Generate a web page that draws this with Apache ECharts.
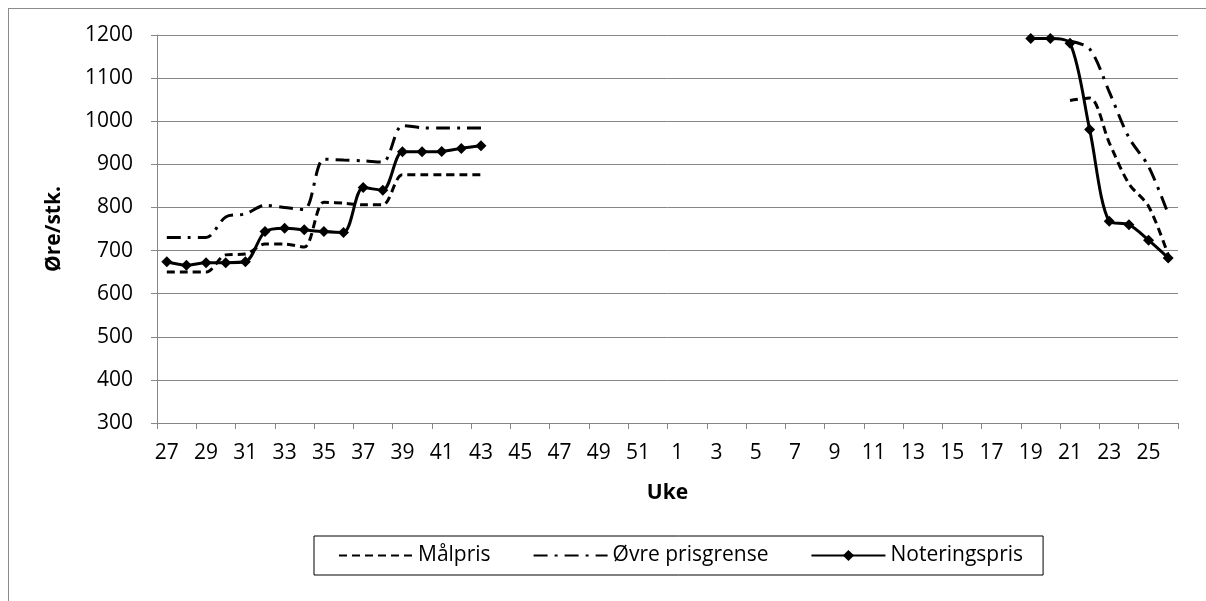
<!DOCTYPE html>
<html>
<head>
<meta charset="utf-8">
<script src="https://cdn.jsdelivr.net/npm/echarts@6/dist/echarts.min.js"></script>
<style>
html,body{margin:0;padding:0;width:1206px;height:601px;overflow:hidden;background:#fff;}
#frame{position:absolute;left:8px;top:8px;width:1400px;height:800px;border:1px solid #8c8c8c;box-sizing:border-box;}
#chart{position:absolute;left:0;top:0;width:1206px;height:601px;}
</style>
</head>
<body>
<div id="frame"></div>
<div id="chart"></div>
<script>
// Categories: weeks 27..52, then 1..26
var weeks = ['27','28','29','30','31','32','33','34','35','36','37','38','39','40','41','42','43','44','45','46','47','48','49','50','51','52',
             '1','2','3','4','5','6','7','8','9','10','11','12','13','14','15','16','17','18','19','20','21','22','23','24','25','26'];

var seriesNames = ['Målpris', 'Øvre prisgrense', 'Noteringspris'];

// weeks 27-43 (17 values), weeks 44-18 (27 gaps), weeks 19-26 (8 values)
var malpris = [650,650,650,690,692,715,715,708,812,810,806,806,876,876,876,876,876,
  null,null,null,null,null,null,null,null,null,
  null,null,null,null,null,null,null,null,null,
  null,null,null,null,null,null,null,null,null,
  null,null,1048,1054,950,855,803,690];

var ovrePrisgrense = [730,730,730,778,785,805,800,795,912,910,908,905,990,985,984,984,984,
  null,null,null,null,null,null,null,null,null,
  null,null,null,null,null,null,null,null,null,
  null,null,null,null,null,null,null,null,null,
  null,null,1186,1168,1068,962,895,785];

var noteringspris = [674,666,672,672,674,744,752,748,744,742,846,840,929,929,930,937,943,
  null,null,null,null,null,null,null,null,null,
  null,null,null,null,null,null,null,null,null,
  null,null,null,null,null,null,null,null,null,
  1192,1192,1181,981,768,760,724,683];

var yTicks = {min: 300, max: 1200, interval: 100};

var FONT = 'Open Sans';
var chart = echarts.init(document.getElementById('chart'), null, {renderer: 'canvas'});
var option = {
  animation: false,
  backgroundColor: 'transparent',
  textStyle: {fontFamily: FONT},
  grid: {left: 157, right: 28, top: 35, bottom: 178, containLabel: false},
  legend: {
    left: 314, top: 536,
    orient: 'horizontal',
    borderColor: '#000', borderWidth: 1,
    padding: [9, 20, 9, 24],
    itemWidth: 74, itemHeight: 14, itemGap: 42,
    textStyle: {fontFamily: FONT, fontSize: 21, color: '#000'},
    data: seriesNames
  },
  xAxis: {
    type: 'category',
    data: weeks,
    boundaryGap: true,
    name: 'Uke',
    nameLocation: 'middle',
    nameGap: 60,
    nameTextStyle: {fontFamily: FONT, fontSize: 21, fontWeight: 'bold', color: '#000'},
    axisLine: {lineStyle: {color: '#868686', width: 1}},
    axisTick: {show: true, interval: 1, length: 6, lineStyle: {color: '#868686'}},
    axisLabel: {interval: 1, fontFamily: FONT, fontSize: 21, color: '#000', margin: 20},
    splitLine: {show: false}
  },
  yAxis: {
    type: 'value',
    min: yTicks.min, max: yTicks.max, interval: yTicks.interval,
    name: 'Øre/stk.',
    nameLocation: 'middle',
    nameGap: 92,
    nameRotate: 90,
    nameTextStyle: {fontFamily: FONT, fontSize: 21, fontWeight: 'bold', color: '#000'},
    axisLine: {show: true, lineStyle: {color: '#868686', width: 1}},
    axisTick: {show: true, length: 6, lineStyle: {color: '#868686'}},
    axisLabel: {fontFamily: FONT, fontSize: 21, color: '#000', margin: 24,
      formatter: function (v) { return String(v); }},
    splitLine: {show: true, lineStyle: {color: '#868686', width: 1}}
  },
  series: [
    {
      name: seriesNames[0], type: 'line', data: malpris,
      smooth: 0.3, connectNulls: false, showSymbol: false, symbol: 'circle',
      lineStyle: {color: '#000', width: 3, type: [8, 5]},
      itemStyle: {color: '#000', opacity: 0}
    },
    {
      name: seriesNames[1], type: 'line', data: ovrePrisgrense,
      smooth: 0.3, connectNulls: false, showSymbol: false, symbol: 'circle',
      lineStyle: {color: '#000', width: 3, type: [14, 7, 3, 7]},
      itemStyle: {color: '#000', opacity: 0}
    },
    {
      name: seriesNames[2], type: 'line', data: noteringspris,
      smooth: 0.3, connectNulls: false,
      symbol: 'diamond', symbolSize: 11, showSymbol: true,
      lineStyle: {color: '#000', width: 3, type: 'solid'},
      itemStyle: {color: '#000'}
    }
  ]
};
chart.setOption(option);
</script>
</body>
</html>
